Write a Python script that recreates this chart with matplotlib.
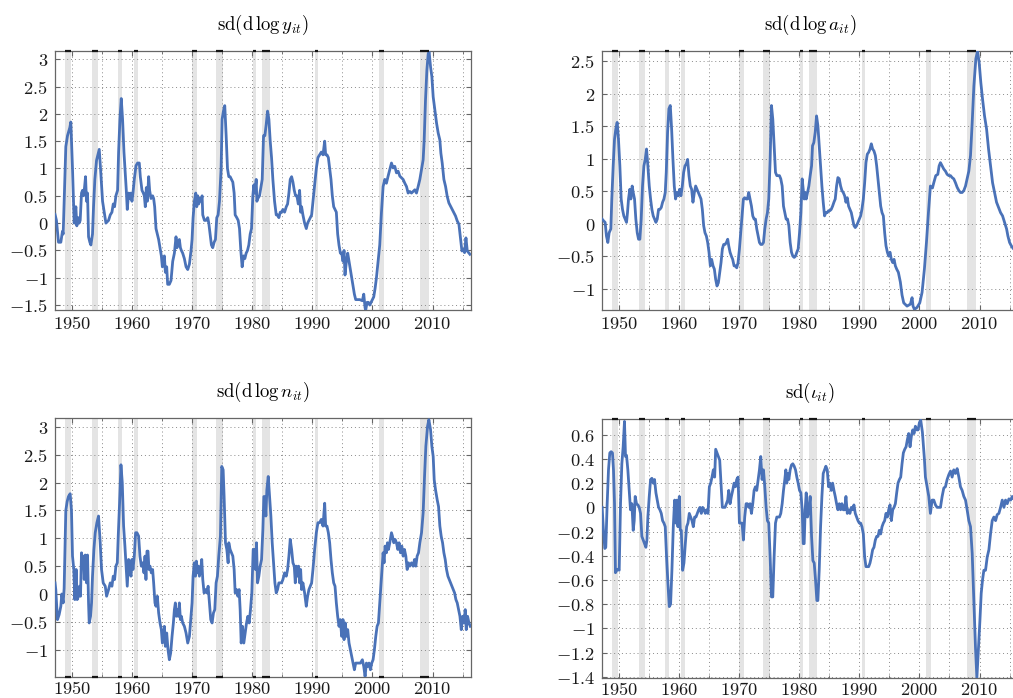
import numpy as np
import matplotlib
matplotlib.use("Agg")
import matplotlib.pyplot as plt
from matplotlib.ticker import MultipleLocator, FuncFormatter

# ---------------- data ----------------
rec_start = [1948.9, 1953.4, 1957.6, 1960.3, 1969.95, 1973.9, 1980.1, 1981.65, 1990.5, 2001.1, 2007.9]
rec_end = [1949.9, 1954.35, 1958.3, 1961.05, 1970.85, 1975.15, 1980.6, 1982.9, 1991.0, 2001.9, 2009.45]

y_years = [1947.2, 1947.44, 1947.78, 1948.17, 1948.44, 1948.56, 1949.0, 1949.28, 1949.67, 1949.83,
           1950.11, 1950.39, 1950.67, 1950.83, 1951.06, 1951.22, 1951.39, 1951.61, 1951.78, 1951.94,
           1952.11, 1952.28, 1952.44, 1952.61, 1952.78, 1953.0, 1953.17, 1953.44, 1953.61, 1953.83,
           1954.11, 1954.33, 1954.56, 1954.83, 1955.11, 1955.39, 1955.67, 1956.11, 1956.39, 1956.67,
           1956.89, 1957.11, 1957.33, 1957.61, 1957.78, 1958.0, 1958.22, 1958.44, 1958.67, 1958.89,
           1959.06, 1959.22, 1959.44, 1959.67, 1959.83,
           1960.0, 1960.17, 1960.39, 1960.67, 1960.94, 1961.22, 1961.39, 1961.67, 1961.89, 1962.06,
           1962.22, 1962.39, 1962.56, 1962.78, 1962.94, 1963.17, 1963.44, 1963.61, 1963.78, 1964.0,
           1964.22, 1964.44, 1964.67, 1964.89, 1965.06, 1965.22, 1965.39, 1965.56, 1965.78, 1965.94,
           1966.22, 1966.5, 1966.78, 1967.06, 1967.33, 1967.5, 1967.67, 1967.89, 1968.06, 1968.22,
           1968.44, 1968.72, 1969.0, 1969.28, 1969.56, 1969.83,
           1970.0, 1970.17, 1970.39, 1970.61, 1970.78, 1970.94, 1971.11, 1971.28, 1971.5, 1971.67,
           1971.78, 1972.06, 1972.33, 1972.61, 1972.78, 1973.0, 1973.22, 1973.44, 1973.67, 1973.89,
           1974.11, 1974.33, 1974.56, 1974.83, 1975.0, 1975.22, 1975.44, 1975.67, 1975.89, 1976.11,
           1976.33, 1976.56, 1976.78, 1977.0, 1977.17, 1977.44, 1977.67, 1977.89, 1978.11, 1978.33,
           1978.56, 1978.78, 1979.0, 1979.22, 1979.44, 1979.67, 1979.89,
           1980.11, 1980.28, 1980.44, 1980.67, 1980.78, 1980.94, 1981.22, 1981.44, 1981.67, 1981.89,
           1982.11, 1982.33, 1982.56, 1982.78, 1983.0, 1983.22, 1983.44, 1983.72, 1984.0, 1984.22,
           1984.44, 1984.67, 1984.89, 1985.11, 1985.39, 1985.67, 1985.89, 1986.11, 1986.33, 1986.56,
           1986.78, 1987.0, 1987.22, 1987.44, 1987.67, 1987.89, 1988.06, 1988.22, 1988.44, 1988.72,
           1989.0, 1989.22, 1989.44, 1989.67, 1989.89,
           1990.11, 1990.39, 1990.67, 1990.94, 1991.22, 1991.5, 1991.78, 1992.06, 1992.22, 1992.44,
           1992.67, 1992.89, 1993.11, 1993.33, 1993.56, 1993.78, 1994.0, 1994.22, 1994.44, 1994.67,
           1994.89, 1995.11, 1995.28, 1995.44, 1995.67, 1995.89, 1996.11, 1996.33, 1996.56, 1996.78,
           1997.0, 1997.22, 1997.44, 1997.89, 1998.33, 1998.56, 1998.78, 1998.89, 1999.11, 1999.33,
           1999.56, 1999.78,
           2000.0, 2000.22, 2000.44, 2000.67, 2000.94, 2001.22, 2001.5, 2001.78, 2002.06, 2002.33,
           2002.61, 2002.89, 2003.17, 2003.44, 2003.72, 2004.0, 2004.28, 2004.56, 2004.83, 2005.11,
           2005.39, 2005.67, 2005.94, 2006.22, 2006.5, 2006.78, 2007.06, 2007.33, 2007.61, 2007.89,
           2008.17, 2008.44, 2008.61, 2008.83, 2009.06, 2009.28, 2009.44, 2009.67, 2009.89,
           2010.11, 2010.39, 2010.67, 2010.94, 2011.22, 2011.39, 2011.61, 2011.89, 2012.17, 2012.44,
           2012.72, 2013.0, 2013.28, 2013.56, 2013.83, 2014.11, 2014.39, 2014.67, 2014.89, 2015.11,
           2015.33, 2015.56, 2015.78, 2016.0, 2016.22]
y_vals = [0.16, 0.05, -0.35, -0.35, -0.15, -0.2, 1.4, 1.6, 1.75, 1.85,
          1.0, 0.0, 0.3, -0.05, 0.1, 0.0, 0.05, 0.55, 0.6, 0.5,
          0.65, 0.85, 0.4, 0.55, -0.25, -0.35, -0.4, -0.2, 0.3, 0.8,
          1.15, 1.25, 1.35, 0.9, 0.4, 0.2, 0.0, 0.05, 0.15, 0.2,
          0.35, 0.3, 0.5, 0.6, 1.3, 1.9, 2.28, 1.9, 1.3, 0.9,
          0.6, 0.25, 0.55, 0.45, 0.55,
          0.4, 0.55, 0.8, 1.05, 1.1, 1.1, 0.85, 0.6, 0.55, 0.5,
          0.3, 0.65, 0.4, 0.85, 0.6, 0.45, 0.5, 0.45, 0.3, -0.1,
          -0.2, -0.3, -0.45, -0.6, -0.8, -0.75, -0.6, -0.9, -0.8, -1.12,
          -1.12, -1.05, -0.7, -0.55, -0.25, -0.45, -0.35, -0.3, -0.45, -0.5,
          -0.55, -0.65, -0.8, -0.85, -0.75, -0.5,
          -0.3, 0.1, 0.4, 0.55, 0.3, 0.5, 0.35, 0.45, 0.4, 0.5,
          0.15, 0.05, 0.05, 0.1, 0.0, -0.2, -0.4, -0.45, -0.35, -0.3,
          0.1, 0.15, 0.4, 1.0, 1.9, 2.05, 2.15, 1.6, 1.0, 0.85,
          0.85, 0.8, 0.75, 0.55, 0.15, 0.1, 0.05, -0.1, -0.5, -0.8,
          -0.6, -0.65, -0.55, -0.5, -0.4, -0.2, -0.1,
          0.5, 0.7, 0.55, 0.8, 0.4, 0.45, 0.5, 0.65, 0.8, 1.6,
          1.6, 1.8, 2.05, 1.9, 1.5, 1.2, 0.8, 0.4, 0.15, 0.15,
          0.1, 0.2, 0.2, 0.25, 0.2, 0.3, 0.35, 0.55, 0.8, 0.85,
          0.75, 0.6, 0.5, 0.5, 0.35, 0.6, 0.2, 0.3, 0.15, 0.0,
          -0.1, 0.0, 0.05, 0.1, 0.15,
          0.4, 0.7, 1.0, 1.2, 1.25, 1.3, 1.25, 1.5, 1.25, 1.25,
          1.2, 1.0, 0.8, 0.5, 0.3, 0.25, 0.2, -0.2, -0.4, -0.55,
          -0.55, -0.7, -0.5, -0.95, -0.7, -0.55, -0.7, -0.85, -1.0, -1.15,
          -1.3, -1.4, -1.4, -1.4, -1.42, -1.3, -1.55, -1.59, -1.45, -1.45,
          -1.5, -1.45,
          -1.4, -1.35, -1.2, -1.0, -0.7, -0.4, 0.19, 0.67, 0.8, 0.73,
          0.86, 0.98, 1.1, 1.01, 1.04, 0.92, 0.95, 0.86, 0.83, 0.8,
          0.73, 0.67, 0.55, 0.58, 0.55, 0.58, 0.61, 0.55, 0.67, 0.8,
          0.98, 1.16, 1.52, 2.25, 2.8, 3.1, 3.13, 2.86, 2.68,
          2.31, 2.07, 1.83, 1.65, 1.52, 1.28, 1.1, 0.8, 0.67, 0.49,
          0.37, 0.31, 0.25, 0.19, 0.13, 0.04, -0.02, -0.3, -0.51, -0.48,
          -0.54, -0.27, -0.51, -0.54, -0.57]

a_years = [1947.22, 1947.5, 1947.72, 1947.94, 1948.17, 1948.39, 1948.67, 1948.83, 1949.06, 1949.28,
           1949.5, 1949.72, 1949.94,
           1950.17, 1950.39, 1950.61, 1950.83, 1951.06, 1951.28, 1951.44, 1951.61, 1951.83, 1952.0,
           1952.22, 1952.39, 1952.61, 1952.83, 1953.06, 1953.28, 1953.5, 1953.72, 1953.94, 1954.17,
           1954.39, 1954.61, 1954.83, 1955.06, 1955.28, 1955.5, 1955.72, 1955.94, 1956.17, 1956.39,
           1956.61, 1956.83, 1957.06, 1957.28, 1957.5, 1957.72, 1957.89, 1958.11, 1958.33, 1958.56,
           1958.78, 1959.0, 1959.22, 1959.44, 1959.67, 1959.89,
           1960.11, 1960.33, 1960.56, 1960.78, 1961.0, 1961.22, 1961.44, 1961.67, 1961.89, 1962.11,
           1962.33, 1962.56, 1962.78, 1963.0, 1963.22, 1963.44, 1963.67, 1963.89, 1964.11, 1964.33,
           1964.56, 1964.78, 1965.0, 1965.22, 1965.44, 1965.67, 1965.89, 1966.11, 1966.33, 1966.56,
           1966.78, 1967.0, 1967.22, 1967.44, 1967.67, 1967.89, 1968.11, 1968.28, 1968.5, 1968.72,
           1968.94, 1969.17, 1969.39, 1969.61, 1969.83,
           1970.06, 1970.28, 1970.5, 1970.72, 1970.94, 1971.17, 1971.39, 1971.61, 1971.83, 1972.06,
           1972.28, 1972.5, 1972.72, 1972.94, 1973.17, 1973.39, 1973.61, 1973.83, 1974.06, 1974.28,
           1974.5, 1974.72, 1974.94, 1975.17, 1975.39, 1975.61, 1975.83, 1976.06, 1976.28, 1976.5,
           1976.72, 1976.94, 1977.17, 1977.39, 1977.61, 1977.83, 1978.06, 1978.28, 1978.5, 1978.72,
           1978.94, 1979.17, 1979.39, 1979.61, 1979.83,
           1980.06, 1980.28, 1980.5, 1980.67, 1980.83, 1981.0, 1981.17, 1981.39, 1981.61, 1981.83,
           1982.06, 1982.22, 1982.44, 1982.67, 1982.89, 1983.11, 1983.33, 1983.56, 1983.78, 1984.0,
           1984.22, 1984.44, 1984.67, 1984.89, 1985.11, 1985.33, 1985.56, 1985.78, 1986.0, 1986.22,
           1986.44, 1986.67, 1986.89, 1987.11, 1987.33, 1987.56, 1987.78, 1988.0, 1988.22, 1988.44,
           1988.67, 1988.89, 1989.11, 1989.33, 1989.56, 1989.78,
           1990.0, 1990.22, 1990.44, 1990.67, 1990.89, 1991.11, 1991.33, 1991.56, 1991.78, 1992.0,
           1992.22, 1992.44, 1992.67, 1992.89, 1993.11, 1993.33, 1993.56, 1993.78, 1994.0, 1994.22,
           1994.44, 1994.67, 1994.89, 1995.11, 1995.33, 1995.56, 1995.78, 1996.0, 1996.22, 1996.5,
           1996.83, 1997.11, 1997.39, 1997.94, 1998.5, 1998.78, 1998.94, 1999.17, 1999.61,
           2000.06, 2000.44, 2000.83, 2001.17, 2001.5, 2001.83, 2002.17, 2002.39, 2002.72, 2003.06,
           2003.28, 2003.5, 2003.78, 2004.06, 2004.33, 2004.61, 2004.89, 2005.17, 2005.44, 2005.72,
           2006.0, 2006.28, 2006.56, 2006.83, 2007.11, 2007.39, 2007.67, 2007.94, 2008.22, 2008.5,
           2008.78, 2009.06, 2009.39, 2009.67, 2009.94,
           2010.22, 2010.5, 2010.83, 2011.17, 2011.5, 2011.83, 2012.17, 2012.5, 2012.83, 2013.17,
           2013.5, 2013.83, 2014.17, 2014.5, 2014.72, 2015.0, 2015.28, 2015.5, 2015.67, 2015.9,
           2016.2]
a_vals = [0.07, 0.04, 0.02, -0.19, -0.29, -0.14, -0.08, 0.38, 0.89, 1.3,
          1.46, 1.56, 1.3,
          0.89, 0.38, 0.22, 0.12, 0.07, 0.02, 0.17, 0.38, 0.53, 0.38,
          0.58, 0.48, 0.38, 0.07, -0.14, -0.24, -0.24, 0.07, 0.58, 0.89,
          0.99, 1.15, 0.89, 0.58, 0.38, 0.22, 0.12, 0.07, 0.02, 0.07,
          0.22, 0.22, 0.25, 0.33, 0.38, 0.48, 0.79, 1.41, 1.77, 1.82,
          1.46, 0.99, 0.58, 0.38, 0.48, 0.43,
          0.53, 0.43, 0.58, 0.79, 0.89, 0.92, 0.99, 0.74, 0.58, 0.53,
          0.33, 0.48, 0.58, 0.53, 0.48, 0.43, 0.38, 0.22, -0.03, -0.14,
          -0.19, -0.29, -0.44, -0.65, -0.55, -0.65, -0.7, -0.86, -0.96, -0.91,
          -0.75, -0.6, -0.39, -0.32, -0.32, -0.29, -0.24, -0.34, -0.44, -0.5,
          -0.55, -0.65, -0.65, -0.68, -0.6,
          -0.39, -0.14, 0.12, 0.38, 0.4, 0.38, 0.38, 0.48, 0.38, 0.27,
          0.12, 0.07, 0.07, -0.08, -0.19, -0.29, -0.32, -0.32, -0.29, -0.08,
          0.07, 0.17, 0.38, 0.99, 1.82, 1.61, 1.2, 0.79, 0.74, 0.74,
          0.74, 0.69, 0.58, 0.27, 0.17, 0.07, 0.07, -0.03, -0.29, -0.44,
          -0.5, -0.52, -0.5, -0.44, -0.39,
          -0.14, 0.17, 0.69, 0.53, 0.38, 0.48, 0.38, 0.48, 0.58, 0.74,
          0.89, 1.2, 1.25, 1.41, 1.66, 1.51, 1.2, 0.89, 0.58, 0.33,
          0.12, 0.17, 0.17, 0.2, 0.2, 0.22, 0.27, 0.33, 0.38, 0.58,
          0.71, 0.69, 0.58, 0.51, 0.48, 0.43, 0.33, 0.4, 0.27, 0.22,
          0.17, 0.07, -0.03, -0.06, -0.03, 0.02,
          0.07, 0.12, 0.22, 0.38, 0.63, 0.94, 1.07, 1.1, 1.15, 1.23,
          1.15, 1.12, 1.05, 0.89, 0.69, 0.48, 0.27, 0.17, 0.12, -0.14,
          -0.34, -0.44, -0.5, -0.44, -0.55, -0.6, -0.55, -0.65, -0.7, -0.75,
          -0.9, -1.1, -1.22, -1.27, -1.24, -1.14, -1.27, -1.32, -1.29,
          -1.22, -1.06, -0.7, -0.29, 0.17, 0.58, 0.55, 0.63, 0.74, 0.76,
          0.89, 0.94, 0.89, 0.84, 0.81, 0.76, 0.74, 0.74, 0.71, 0.69,
          0.63, 0.56, 0.51, 0.48, 0.48, 0.51, 0.58, 0.69, 0.81, 1.05,
          1.56, 2.12, 2.54, 2.66, 2.48,
          2.17, 1.92, 1.66, 1.46, 1.15, 0.89, 0.63, 0.48, 0.33, 0.25,
          0.17, 0.12, 0.02, -0.08, -0.19, -0.29, -0.34, -0.37, -0.39, -0.36,
          -0.3]

n_years = [1947.2, 1947.33, 1947.61, 1947.89, 1948.17, 1948.33, 1948.56, 1948.72, 1949.0, 1949.22,
           1949.44, 1949.72, 1949.94,
           1950.11, 1950.33, 1950.5, 1950.72, 1950.89, 1951.11, 1951.28, 1951.44, 1951.61, 1951.78,
           1951.94, 1952.06, 1952.22, 1952.44, 1952.61, 1952.78, 1952.89, 1953.11, 1953.28, 1953.44,
           1953.67, 1953.89, 1954.17, 1954.44, 1954.72, 1954.94, 1955.22, 1955.56, 1955.78, 1956.11,
           1956.39, 1956.67, 1956.89, 1957.11, 1957.33, 1957.56, 1957.72, 1957.94, 1958.17, 1958.39,
           1958.61, 1958.83, 1959.06, 1959.22, 1959.44, 1959.67, 1959.83,
           1960.0, 1960.17, 1960.39, 1960.61, 1960.83, 1961.11, 1961.33, 1961.56, 1961.78, 1962.0,
           1962.17, 1962.33, 1962.5, 1962.67, 1962.83, 1963.0, 1963.22, 1963.44, 1963.61, 1963.83,
           1964.0, 1964.22, 1964.44, 1964.67, 1964.89, 1965.06, 1965.22, 1965.39, 1965.56, 1965.78,
           1966.0, 1966.22, 1966.44, 1966.67, 1966.89, 1967.06, 1967.22, 1967.39, 1967.56, 1967.72,
           1967.89, 1968.06, 1968.22, 1968.44, 1968.72, 1969.0, 1969.28, 1969.56, 1969.83,
           1970.0, 1970.17, 1970.39, 1970.56, 1970.72, 1970.89, 1971.06, 1971.22, 1971.44, 1971.61,
           1971.78, 1972.0, 1972.22, 1972.44, 1972.67, 1972.89, 1973.11, 1973.33, 1973.56, 1973.78,
           1974.0, 1974.22, 1974.44, 1974.72, 1974.94, 1975.17, 1975.33, 1975.56, 1975.78, 1976.0,
           1976.11, 1976.33, 1976.56, 1976.78, 1977.0, 1977.17, 1977.39, 1977.61, 1977.83, 1978.0,
           1978.17, 1978.39, 1978.61, 1978.83, 1979.06, 1979.28, 1979.5, 1979.72, 1979.94,
           1980.17, 1980.39, 1980.56, 1980.72, 1980.89, 1981.11, 1981.33, 1981.56, 1981.78, 1981.94,
           1982.11, 1982.28, 1982.44, 1982.67, 1982.89, 1983.11, 1983.33, 1983.56, 1983.78, 1984.0,
           1984.22, 1984.44, 1984.67, 1984.89, 1985.11, 1985.39, 1985.67, 1985.89, 1986.11, 1986.33,
           1986.56, 1986.78, 1987.0, 1987.17, 1987.33, 1987.56, 1987.72, 1987.89, 1988.06, 1988.22,
           1988.44, 1988.72, 1989.0, 1989.22, 1989.44, 1989.67, 1989.89,
           1990.11, 1990.39, 1990.67, 1990.94, 1991.22, 1991.5, 1991.78, 1992.06, 1992.22, 1992.44,
           1992.67, 1992.89, 1993.11, 1993.33, 1993.56, 1993.78, 1994.0, 1994.22, 1994.44, 1994.67,
           1994.89, 1995.11, 1995.28, 1995.5, 1995.67, 1995.89, 1996.11, 1996.33, 1996.56, 1996.78,
           1997.0, 1997.22, 1997.61, 1998.0, 1998.33, 1998.56, 1998.78, 1999.0, 1999.22, 1999.44,
           1999.67, 1999.89,
           2000.11, 2000.33, 2000.56, 2000.78, 2001.0, 2001.22, 2001.5, 2001.78, 2001.94, 2002.11,
           2002.33, 2002.5, 2002.67, 2002.89, 2003.17, 2003.33, 2003.56, 2003.78, 2004.0, 2004.22,
           2004.44, 2004.67, 2004.89, 2005.11, 2005.33, 2005.56, 2005.78, 2006.0, 2006.22, 2006.5,
           2006.78, 2007.0, 2007.22, 2007.44, 2007.67, 2007.89, 2008.17, 2008.44, 2008.67, 2008.89,
           2009.17, 2009.39, 2009.67, 2009.89,
           2010.11, 2010.28, 2010.5, 2010.78, 2011.0, 2011.22, 2011.44, 2011.67, 2011.89, 2012.11,
           2012.33, 2012.56, 2012.78, 2013.0, 2013.22, 2013.44, 2013.67, 2013.89, 2014.11, 2014.33,
           2014.56, 2014.78, 2015.0, 2015.22, 2015.44, 2015.61, 2015.83, 2016.06, 2016.28]
n_vals = [0.2, 0.08, -0.46, -0.37, -0.22, 0.0, -0.16, 0.1, 1.5, 1.66,
          1.75, 1.8, 1.5,
          0.68, 0.44, -0.1, 0.44, -0.1, -0.04, 0.14, -0.04, 0.74, 0.5,
          0.68, 0.26, 0.7, 0.2, 0.7, -0.16, -0.52, -0.4, -0.16, 0.32,
          0.8, 1.1, 1.28, 1.4, 0.92, 0.44, 0.2, 0.14, -0.04, 0.08,
          0.2, 0.14, 0.32, 0.26, 0.5, 0.56, 1.04, 1.63, 2.32, 2.0,
          1.22, 0.86, 0.44, 0.14, 0.62, 0.56, 0.32,
          0.62, 0.44, 0.68, 1.1, 1.1, 1.04, 0.68, 0.5, 0.56, 0.38,
          0.68, 0.26, 0.77, 0.77, 0.44, 0.5, 0.38, 0.44, 0.2, -0.16,
          -0.22, -0.04, -0.34, -0.52, -0.64, -0.88, -0.82, -0.58, -0.94, -0.7,
          -1.0, -1.18, -1.06, -0.76, -0.52, -0.28, -0.16, -0.4, -0.28, -0.4,
          -0.16, -0.46, -0.4, -0.52, -0.58, -0.7, -0.88, -0.76, -0.4,
          -0.16, 0.32, 0.56, 0.32, 0.59, 0.38, 0.5, 0.32, 0.44, 0.62,
          0.26, 0.02, 0.08, 0.02, 0.14, -0.16, -0.46, -0.52, -0.34, -0.28,
          0.2, 0.32, 0.68, 1.04, 2.29, 2.23, 1.75, 0.92, 0.8, 0.56,
          0.92, 0.8, 0.74, 0.68, 0.44, 0.02, 0.08, -0.04, 0.08, -0.28,
          -0.88, -0.58, -0.88, -0.7, -0.52, -0.4, -0.52, -0.28, 0.02,
          0.8, 0.8, 0.44, 0.92, 0.2, 0.32, 0.5, 0.62, 1.16, 1.75,
          1.75, 1.4, 1.87, 2.11, 1.75, 1.4, 0.92, 0.56, 0.2, 0.02,
          0.08, 0.2, 0.2, 0.2, 0.26, 0.38, 0.32, 0.44, 0.68, 0.98,
          0.8, 0.56, 0.5, 0.2, 0.5, 0.32, 0.5, 0.2, 0.44, 0.08,
          0.2, 0.02, -0.22, -0.04, 0.08, 0.14, 0.2,
          0.44, 0.8, 1.1, 1.28, 1.28, 1.34, 1.22, 1.63, 1.22, 1.22,
          1.1, 0.92, 0.62, 0.38, 0.2, 0.14, -0.16, -0.4, -0.58, -0.46,
          -0.76, -0.46, -0.82, -0.52, -0.76, -0.64, -0.88, -1.0, -1.12, -1.24,
          -1.36, -1.24, -1.24, -1.24, -1.18, -1.3, -1.48, -1.24, -1.3, -1.24,
          -1.36, -1.24,
          -1.18, -1.0, -0.76, -0.58, -0.52, -0.16, 0.32, 0.74, 0.56, 0.86,
          0.74, 0.92, 0.8, 0.92, 1.1, 1.04, 0.92, 0.98, 0.92, 0.8,
          0.92, 0.74, 0.86, 0.68, 0.8, 0.68, 0.44, 0.56, 0.5, 0.56,
          0.5, 0.62, 0.5, 0.68, 0.74, 0.92, 1.1, 1.46, 2.11, 2.65,
          3.01, 3.13, 2.95, 2.65,
          2.47, 2.05, 1.87, 1.69, 1.57, 1.22, 1.04, 0.92, 0.74, 0.62,
          0.44, 0.32, 0.26, 0.2, 0.14, 0.08, 0.02, -0.1, -0.16, -0.28,
          -0.4, -0.64, -0.4, -0.52, -0.28, -0.64, -0.4, -0.52, -0.58]

i_years = [1947.22, 1947.44, 1947.67, 1947.83, 1948.06, 1948.28, 1948.5, 1948.72, 1948.94, 1949.11,
           1949.28, 1949.44, 1949.67, 1949.89,
           1950.06, 1950.28, 1950.5, 1950.72, 1950.94, 1951.11, 1951.28, 1951.5, 1951.72, 1951.94,
           1952.17, 1952.39, 1952.56, 1952.72, 1952.94, 1953.17, 1953.39, 1953.61, 1953.83, 1954.06,
           1954.28, 1954.5, 1954.67, 1954.83, 1955.06, 1955.28, 1955.5, 1955.72, 1955.94, 1956.17,
           1956.39, 1956.61, 1956.83, 1957.06, 1957.28, 1957.5, 1957.72, 1957.94, 1958.17, 1958.39,
           1958.61, 1958.83, 1959.06, 1959.28, 1959.5, 1959.67, 1959.83,
           1960.06, 1960.22, 1960.39, 1960.61, 1960.83, 1961.06, 1961.28, 1961.5, 1961.72, 1961.94,
           1962.17, 1962.39, 1962.61, 1962.83, 1963.06, 1963.28, 1963.5, 1963.72, 1963.94, 1964.17,
           1964.39, 1964.61, 1964.83, 1965.06, 1965.28, 1965.5, 1965.72, 1965.94, 1966.11, 1966.33,
           1966.56, 1966.78, 1967.0, 1967.22, 1967.44, 1967.67, 1967.89, 1968.11, 1968.28, 1968.5,
           1968.72, 1968.94, 1969.17, 1969.39, 1969.61, 1969.83,
           1970.06, 1970.28, 1970.5, 1970.72, 1970.94, 1971.17, 1971.39, 1971.61, 1971.83, 1972.06,
           1972.28, 1972.5, 1972.72, 1972.94, 1973.17, 1973.39, 1973.61, 1973.83, 1974.06, 1974.28,
           1974.5, 1974.72, 1974.94, 1975.17, 1975.39, 1975.61, 1975.83, 1976.06, 1976.28, 1976.5,
           1976.72, 1976.94, 1977.17, 1977.39, 1977.61, 1977.78, 1977.94, 1978.11, 1978.28, 1978.5,
           1978.72, 1978.94, 1979.17, 1979.39, 1979.61, 1979.83,
           1980.06, 1980.28, 1980.5, 1980.67, 1980.83, 1981.0, 1981.17, 1981.39, 1981.61, 1981.83,
           1982.06, 1982.28, 1982.5, 1982.72, 1982.94, 1983.11, 1983.33, 1983.56, 1983.78, 1984.0,
           1984.22, 1984.44, 1984.67, 1984.89, 1985.11, 1985.33, 1985.56, 1985.78, 1986.0, 1986.22,
           1986.44, 1986.67, 1986.89, 1987.11, 1987.33, 1987.56, 1987.78, 1988.0, 1988.22, 1988.44,
           1988.67, 1988.89, 1989.11, 1989.33, 1989.56, 1989.78,
           1990.0, 1990.22, 1990.44, 1990.67, 1990.89, 1991.11, 1991.33, 1991.56, 1991.78, 1992.0,
           1992.22, 1992.44, 1992.67, 1992.89, 1993.11, 1993.33, 1993.56, 1993.78, 1994.0, 1994.22,
           1994.44, 1994.67, 1994.89, 1995.11, 1995.33, 1995.56, 1995.78, 1996.0, 1996.22, 1996.44,
           1996.67, 1996.89, 1997.11, 1997.33, 1997.56, 1997.78, 1998.0, 1998.22, 1998.44, 1998.67,
           1998.89, 1999.11, 1999.33, 1999.56, 1999.78,
           2000.0, 2000.22, 2000.5, 2000.83, 2001.0, 2001.28, 2001.56, 2001.83, 2002.11, 2002.39,
           2002.67, 2002.94, 2003.22, 2003.5, 2003.78, 2004.06, 2004.33, 2004.61, 2004.89, 2005.17,
           2005.44, 2005.72, 2006.0, 2006.28, 2006.56, 2006.83, 2007.11, 2007.39, 2007.67, 2007.94,
           2008.22, 2008.5, 2008.78, 2009.06, 2009.33, 2009.56, 2009.78,
           2010.06, 2010.28, 2010.5, 2010.72, 2011.0, 2011.28, 2011.56, 2011.83, 2012.11, 2012.39,
           2012.67, 2012.94, 2013.22, 2013.5, 2013.78, 2014.06, 2014.33, 2014.61, 2014.89, 2015.17,
           2015.44, 2015.67, 2016.0, 2016.3]
i_vals = [0.0, -0.19, -0.34, -0.33, 0.03, 0.31, 0.45, 0.46, 0.45, 0.31,
          0.03, -0.54, -0.52, -0.51,
          -0.52, 0.03, 0.36, 0.5, 0.71, 0.42, 0.43, 0.31, 0.14, -0.02,
          0.03, -0.19, -0.11, 0.09, 0.03, 0.02, 0.0, -0.05, -0.24, -0.27,
          -0.3, -0.33, -0.27, -0.08, 0.09, 0.23, 0.24, 0.2, 0.23, 0.12,
          0.06, 0.0, -0.02, -0.05, -0.11, -0.13, -0.16, -0.41, -0.63, -0.82,
          -0.8, -0.52, -0.16, 0.06, -0.13, 0.06, -0.16,
          0.09, -0.19, -0.19, -0.52, -0.46, -0.3, -0.16, -0.13, -0.05, -0.08,
          -0.11, -0.16, -0.08, -0.08, -0.05, -0.02, 0.0, -0.05, 0.0, -0.02,
          -0.05, -0.02, -0.05, 0.17, 0.2, 0.25, 0.31, 0.25, 0.48, 0.45,
          0.42, 0.39, 0.2, 0.0, 0.0, 0.0, 0.03, 0.06, 0.14, 0.03,
          0.09, 0.14, 0.2, 0.17, 0.23, 0.25,
          -0.13, -0.13, -0.13, -0.27, -0.08, 0.03, 0.03, 0.0, 0.03, -0.05,
          0.03, 0.14, 0.17, 0.14, 0.23, 0.31, 0.42, 0.23, 0.31, 0.17,
          0.0, -0.11, -0.13, -0.41, -0.74, -0.74, -0.41, -0.13, -0.08, -0.08,
          -0.08, -0.05, 0.03, 0.14, 0.23, 0.31, 0.2, 0.28, 0.23, 0.31,
          0.35, 0.36, 0.34, 0.31, 0.25, 0.2,
          0.14, 0.12, -0.02, -0.3, -0.3, -0.02, 0.12, -0.08, -0.02, 0.09,
          -0.24, -0.44, -0.46, -0.6, -0.77, -0.77, -0.52, -0.16, 0.09, 0.28,
          0.31, 0.34, 0.31, 0.17, 0.2, 0.14, 0.2, 0.14, 0.09, 0.03,
          -0.02, 0.03, -0.02, 0.03, -0.02, -0.02, 0.09, -0.05, -0.02, -0.05,
          0.0, -0.02, 0.02, -0.05, -0.08, -0.11,
          -0.13, -0.13, -0.16, -0.22, -0.41, -0.49, -0.49, -0.49, -0.46, -0.41,
          -0.35, -0.33, -0.27, -0.24, -0.24, -0.19, -0.22, -0.16, -0.13, -0.11,
          -0.05, -0.08, -0.02, 0.02, -0.11, -0.02, 0.0, 0.03, 0.12, 0.2,
          0.23, 0.25, 0.36, 0.45, 0.48, 0.5, 0.56, 0.61, 0.5, 0.59,
          0.64, 0.61, 0.67, 0.64, 0.64,
          0.7, 0.72, 0.62, 0.4, 0.25, 0.17, 0.09, -0.05, 0.06, 0.06,
          0.02, 0.0, 0.0, 0.0, 0.09, 0.16, 0.17, 0.23, 0.27, 0.3,
          0.25, 0.31, 0.28, 0.32, 0.25, 0.17, 0.14, 0.09, 0.06, -0.02,
          -0.11, -0.16, -0.38, -0.77, -1.16, -1.41, -1.21,
          -0.94, -0.71, -0.6, -0.52, -0.52, -0.41, -0.35, -0.22, -0.11, -0.08,
          -0.11, -0.06, -0.05, 0.0, 0.06, 0.0, 0.06, 0.03, 0.07, 0.06,
          0.09, 0.07, 0.08, 0.07]

titles = [r"$\mathrm{sd}(\mathrm{d}\,\log y_{it})$", r"$\mathrm{sd}(\mathrm{d}\,\log a_{it})$",
          r"$\mathrm{sd}(\mathrm{d}\,\log n_{it})$", r"$\mathrm{sd}(\iota_{it})$"]

# ---------------- style ----------------
plt.rcParams["mathtext.fontset"] = "cm"
plt.rcParams["font.family"] = "DejaVu Serif"
BLUE = "#4a72b8"
SHADE = "#e4e4e4"
FRAME = "#666666"

series = [(y_years, y_vals), (a_years, a_vals), (n_years, n_vals), (i_years, i_vals)]
for xs, vs in series:
    assert len(xs) == len(vs), (len(xs), len(vs))

ylims = [(-1.59, 3.15), (-1.33, 2.66), (-1.49, 3.16), (-1.41, 0.73)]
ysteps = [0.5, 0.5, 0.5, 0.2]
mark_top = [True, True, False, True]

W, H = 1013, 698
boxes = [(55, 51), (602, 51), (55, 418), (602, 419)]
aw, ah = 416, 259

fig = plt.figure(figsize=(W / 100, H / 100), dpi=100)


def fmt(v, p):
    v = round(v, 6)
    if abs(v) < 1e-9:
        v = 0.0
    return "$%s$" % ("%g" % v)


for k, ((xs, vs), title, ylim, ystep, top, (bx, by)) in enumerate(
        zip(series, titles, ylims, ysteps, mark_top, boxes)):
    ax = fig.add_axes([bx / W, 1 - (by + ah) / H, aw / W, ah / H])
    for s, e in zip(rec_start, rec_end):
        ax.axvspan(s, e, color=SHADE, lw=0, zorder=0.5)
    ax.plot(xs, vs, color=BLUE, lw=2.0, zorder=3, solid_joinstyle="round")
    ax.set_xlim(1947.2, 2016.4)
    ax.set_ylim(*ylim)
    ax.xaxis.set_major_locator(MultipleLocator(10))
    ax.xaxis.set_minor_locator(MultipleLocator(5))
    ax.yaxis.set_major_locator(MultipleLocator(ystep))
    ax.yaxis.set_major_formatter(FuncFormatter(fmt))
    ax.xaxis.set_major_formatter(FuncFormatter(lambda v, p: "$%d$" % int(round(v))))
    ax.grid(which="major", linestyle=(0, (1, 3)), color="#8a8a8a", lw=0.7)
    ax.grid(which="minor", axis="x", linestyle=(0, (1, 3)), color="#8a8a8a", lw=0.7)
    for sp in ax.spines.values():
        sp.set_color(FRAME)
        sp.set_linewidth(0.9)
    ax.tick_params(which="both", direction="in", top=True, right=True, color=FRAME,
                   labelsize=13.3, labelcolor="#1a1a1a")
    ax.tick_params(which="major", length=3.5)
    ax.tick_params(which="minor", length=2)
    ax.tick_params(axis="x", pad=3.5 if k < 2 else 2.5)
    ax.tick_params(axis="y", pad=5)
    ypos = 1.0 if top else 0.0
    for s, e in zip(rec_start, rec_end):
        ax.plot([s, e], [ypos, ypos], transform=ax.get_xaxis_transform(), color="#151515",
                lw=1.6, solid_capstyle="butt", clip_on=False, zorder=5)
    ax.set_title(title, fontsize=13.5, pad=15)

fig.savefig("out.png", dpi=100)
